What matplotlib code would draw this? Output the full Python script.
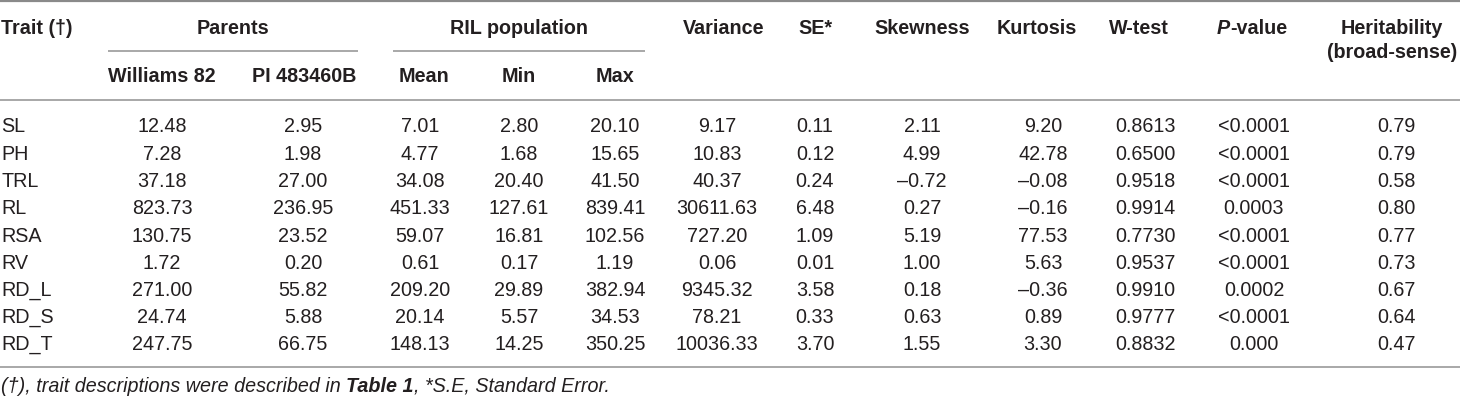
import matplotlib
matplotlib.use("Agg")
import matplotlib.pyplot as plt
from matplotlib import font_manager

# ---- data ----
traits = ["SL", "PH", "TRL", "RL", "RSA", "RV", "RD_L", "RD_S", "RD_T"]
williams82 = [12.48, 7.28, 37.18, 823.73, 130.75, 1.72, 271.00, 24.74, 247.75]
pi483460b = [2.95, 1.98, 27.00, 236.95, 23.52, 0.20, 55.82, 5.88, 66.75]
ril_mean = [7.01, 4.77, 34.08, 451.33, 59.07, 0.61, 209.20, 20.14, 148.13]
ril_min = [2.80, 1.68, 20.40, 127.61, 16.81, 0.17, 29.89, 5.57, 14.25]
ril_max = [20.10, 15.65, 41.50, 839.41, 102.56, 1.19, 382.94, 34.53, 350.25]
variance = [9.17, 10.83, 40.37, 30611.63, 727.20, 0.06, 9345.32, 78.21, 10036.33]
se = [0.11, 0.12, 0.24, 6.48, 1.09, 0.01, 3.58, 0.33, 3.70]
skewness = [2.11, 4.99, -0.72, 0.27, 5.19, 1.00, 0.18, 0.63, 1.55]
kurtosis = [9.20, 42.78, -0.08, -0.16, 77.53, 5.63, -0.36, 0.89, 3.30]
w_test = [0.8613, 0.6500, 0.9518, 0.9914, 0.7730, 0.9537, 0.9910, 0.9777, 0.8832]
p_value = ["<0.0001", "<0.0001", "<0.0001", "0.0003", "<0.0001", "<0.0001", "0.0002", "<0.0001", "0.000"]
heritability = [0.79, 0.79, 0.58, 0.80, 0.77, 0.73, 0.67, 0.64, 0.47]

# ---- fonts ----
avail = {f.name for f in font_manager.fontManager.ttflist}
fam = "Liberation Sans Narrow" if "Liberation Sans Narrow" in avail else "Liberation Sans"
plt.rcParams["font.family"] = [fam, "DejaVu Sans"]

TXT = "#231f20"
LINE = "#9a9a9a"
FS = 14.2

fig = plt.figure(figsize=(14.6, 4.0), dpi=100)
ax = fig.add_axes([0, 0, 1, 1])
ax.set_xlim(0, 1460)
ax.set_ylim(400, 0)
ax.axis("off")

def fmt(v, d):
    return f"{v:.{d}f}".replace("-", "\u2013")

columns = [
    (williams82, 2, 162), (pi483460b, 2, 303), (ril_mean, 2, 420), (ril_min, 2, 519),
    (ril_max, 2, 615), (variance, 2, 717), (se, 2, 815), (skewness, 2, 922),
    (kurtosis, 2, 1043), (w_test, 4, 1145), (p_value, None, 1254), (heritability, 2, 1396),
]

row_y0, row_dy = 127, 27.25
for i, t in enumerate(traits):
    y = row_y0 + i * row_dy
    ax.text(1, y, t, ha="left", va="center", fontsize=FS, color=TXT)
    for vals, d, x in columns:
        s = vals[i] if d is None else fmt(vals[i], d)
        ax.text(x, y, s, ha="center", va="center", fontsize=FS, color=TXT)

# ---- header ----
hy1, hy2 = 28, 77
bold = dict(fontsize=FS, color=TXT, fontweight="bold", va="center")
ax.text(1, hy1, "Trait (\u2020)", ha="left", **bold)
ax.text(233, hy1, "Parents", ha="center", **bold)
ax.text(519, hy1, "RIL population", ha="center", **bold)
ax.text(724, hy1, "Variance", ha="center", **bold)
ax.text(815, hy1, "SE*", ha="center", **bold)
ax.text(922, hy1, "Skewness", ha="center", **bold)
ax.text(1037, hy1, "Kurtosis", ha="center", **bold)
ax.text(1139, hy1, "W-test", ha="center", **bold)
ax.text(1392, hy1, "Heritability", ha="center", **bold)
ax.text(1392, hy1 + 25, "(broad-sense)", ha="center", **bold)
for lab, x in [("Williams 82", 162), ("PI 483460B", 304), ("Mean", 424), ("Min", 519), ("Max", 615)]:
    ax.text(x, hy2, lab, ha="center", **bold)

fig.canvas.draw()
r = fig.canvas.get_renderer()
inv = ax.transData.inverted()

def width_of(t):
    bb = t.get_window_extent(renderer=r)
    a = inv.transform((bb.x0, bb.y0)); b = inv.transform((bb.x1, bb.y0))
    return b[0] - a[0]

# P-value header: italic P + bold "-value", centred
p1 = ax.text(0, hy1, "P", ha="left", fontsize=FS, color=TXT, fontweight="bold", fontstyle="italic", va="center")
p2 = ax.text(0, hy1, "-value", ha="left", **bold)
fig.canvas.draw()
w1, w2 = width_of(p1), width_of(p2)
x0 = 1252 - (w1 + w2) / 2
p1.set_x(x0); p2.set_x(x0 + w1)

# ---- rules ----
ax.plot([0, 1460], [1, 1], color="#8a8a8a", lw=1.6, solid_capstyle="butt")
ax.plot([108, 358], [51, 51], color=LINE, lw=1.2, solid_capstyle="butt")
ax.plot([393, 645], [51, 51], color=LINE, lw=1.2, solid_capstyle="butt")
ax.plot([0, 1460], [100, 100], color=LINE, lw=1.2, solid_capstyle="butt")
ax.plot([0, 1460], [367, 367], color=LINE, lw=1.2, solid_capstyle="butt")

# ---- footnote ----
fy = 386
pieces = [("(\u2020), trait descriptions were described in ", "normal"),
          ("Table 1", "bold"),
          (", *S.E, Standard Error.", "normal")]
x = 1
for s, w in pieces:
    t = ax.text(x, fy, s, ha="left", va="center", fontsize=FS, color=TXT,
                fontstyle="italic", fontweight=w)
    fig.canvas.draw()
    x += width_of(t)

fig.savefig("out.png", dpi=100)
